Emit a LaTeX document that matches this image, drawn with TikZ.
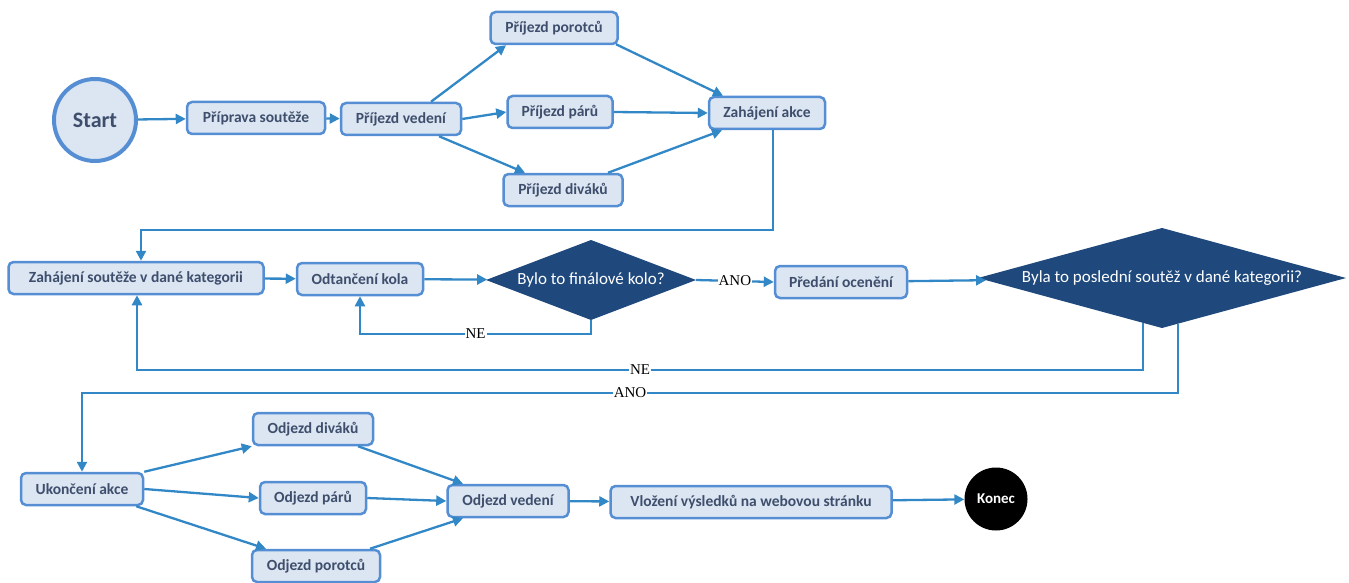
\documentclass[tikz,border=0pt]{standalone}
\usepackage{fontspec}
\setmainfont{Carlito}
\newfontfamily\labelfont{Liberation Serif}
\usetikzlibrary{shapes.geometric,arrows.meta}
\definecolor{boxfill}{RGB}{220,230,242}
\definecolor{boxline}{RGB}{86,142,212}
\definecolor{boxtext}{RGB}{62,78,108}
\definecolor{flow}{RGB}{50,136,198}
\definecolor{decision}{RGB}{31,73,125}
\begin{document}
\begin{tikzpicture}[x=1pt,y=-1pt,
  box/.style={rectangle, rounded corners=5pt, draw=boxline, line width=2.5pt,
    fill=boxfill, minimum height=32pt, inner xsep=4pt, text=boxtext,
    font=\fontsize{15.5}{18}\selectfont\bfseries},
  decide/.style={diamond, fill=decision, draw=none, inner sep=0pt, outer sep=0pt,
    text=white, font=\fontsize{17}{20}\selectfont},
  arr/.style={draw=flow, line width=2.3pt, -{Triangle[length=10pt,width=10pt]}},
  lbl/.style={fill=white, inner sep=1pt, text=black,
    font=\labelfont\fontsize{15}{17}\selectfont}]
\useasboundingbox (0,0) rectangle (1349,583);

% start and preparation
\node[circle, draw=boxline, line width=4pt, fill=boxfill, minimum size=82pt,
  text=boxtext, font=\fontsize{22}{26}\selectfont\bfseries] (start) at (95,120) {Start};
\node[box, minimum width=138pt] (ppr) at (256,118) {Příprava soutěže};
\node[box, minimum width=120pt] (pv)  at (401,119) {Příjezd vedení};
\node[box, minimum width=127pt] (ppo) at (554,28)  {Příjezd porotců};
\node[box, minimum width=105pt] (ppa) at (560,112) {Příjezd párů};
\node[box, minimum width=119pt] (pdi) at (563,190) {Příjezd diváků};
\node[box, minimum width=116pt] (za)  at (767,113) {Zahájení akce};

% competition loop
\node[box, minimum width=255pt] (zs)  at (136,278) {Zahájení soutěže v dané kategorii};
\node[box, minimum width=126pt] (ok)  at (360,279) {Odtančení kola};
\node[decide, aspect=2.62, minimum width=210pt, minimum height=80pt] (d1) at (591,280) {Bylo to finálové kolo?};
\node[box, minimum width=132pt] (po)  at (841,282) {Předání ocenění};
\node[decide, aspect=3.68, minimum width=368pt, minimum height=100pt] (d2) at (1162,278) {Byla to poslední soutěž v dané kategorii?};

% closing
\node[box, minimum width=122pt] (uk)  at (82,489)  {Ukončení akce};
\node[box, minimum width=120pt] (odi) at (313,429) {Odjezd diváků};
\node[box, minimum width=106pt] (opa) at (313,498) {Odjezd párů};
\node[box, minimum width=128pt] (opo) at (316,566) {Odjezd porotců};
\node[box, minimum width=121pt] (ov)  at (508,501) {Odjezd vedení};
\node[box, minimum width=281pt] (vl)  at (751,502) {Vložení výsledků na webovou stránku};
\node[circle, fill=black, minimum size=63pt, text=white,
  font=\fontsize{15}{18}\selectfont\bfseries] (ko) at (996,499) {Konec};

% corner points of the routed connectors
\coordinate (k1) at (773,230);
\coordinate (k2) at (141,230);
\coordinate (k4) at (360,334);
\coordinate (k5) at (137,370);
\coordinate (k6) at (82,393);

% arrivals
\draw[arr] (start) -- (ppr);
\draw[arr] (ppr) -- (pv);
\draw[arr] ([xshift=30pt]pv.north) -- ([xshift=-48pt]ppo.south);
\draw[arr] (pv.east) -- (ppa.west);
\draw[arr] ([xshift=38pt]pv.south) -- ([xshift=-38pt]pdi.north);
\draw[arr] ([xshift=62pt,yshift=1pt]ppo.south) -- ([xshift=-44pt]za.north);
\draw[arr] (ppa.east) -- (za.west);
\draw[arr] ([xshift=45pt]pdi.north) -- ([xshift=-45pt]za.south);
\draw[arr] (za.south -| k1) -- (k1) -- (k2) -- (zs.north -| k2);

% competition
\draw[arr] (zs) -- (ok);
\draw[arr] (ok) -- (d1);
\draw[arr] (d1.east) -- node[lbl] {ANO} (po.west);
\draw[arr] (d1.south) |- node[lbl, pos=0.75] {NE} (k4) -- (ok.south);
\draw[arr] (po) -- (d2);
\draw[arr] ([xshift=-19pt,yshift=5pt]d2.south) |- node[lbl, pos=0.75] {NE} (k5) -- (zs.south -| k5);
\draw[arr] ([xshift=16pt,yshift=4pt]d2.south) |- node[lbl, pos=0.75] {ANO} (k6) -- (uk.north -| k6);

% departures
\draw[arr] (uk.north east) -- (odi.south west);
\draw[arr] (uk.east) -- (opa.west);
\draw[arr] ([xshift=-8pt]uk.south east) -- ([xshift=-50pt]opo.north);
\draw[arr] ([xshift=45pt]odi.south) -- ([xshift=-45pt]ov.north);
\draw[arr] (opa.east) -- (ov.west);
\draw[arr] ([xshift=54pt]opo.north) -- ([xshift=-45pt]ov.south);
\draw[arr] (ov) -- (vl);
\draw[arr] (vl) -- (ko);
\end{tikzpicture}
\end{document}
